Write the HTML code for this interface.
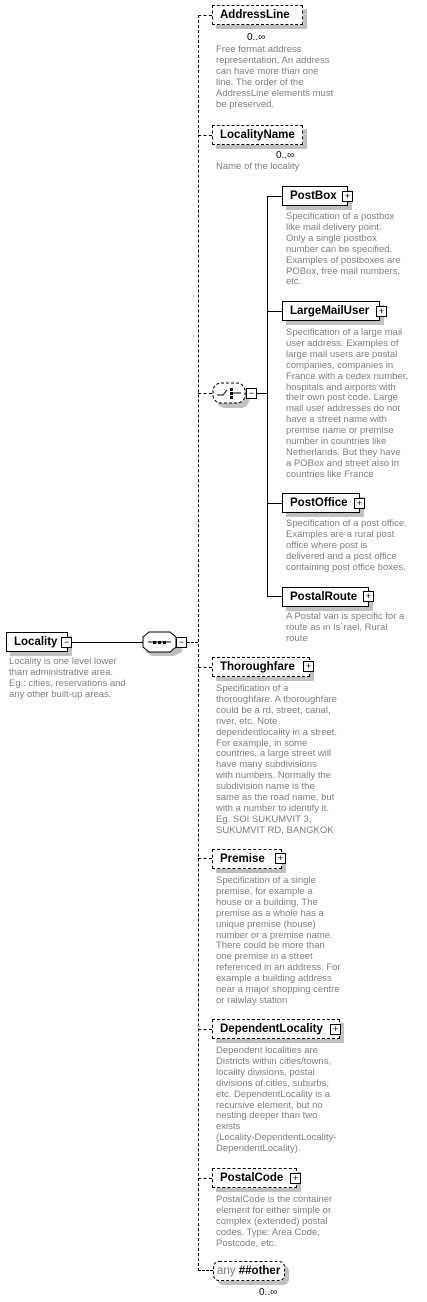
<!DOCTYPE html>
<html><head><meta charset="utf-8"><style>
body{margin:0;width:427px;height:1302px;background:#fff;position:relative;overflow:hidden;font-family:"Liberation Sans",Arial,sans-serif}
.a{position:absolute}
.box{position:absolute;background:#fff;border:1px solid #000;height:20px;box-shadow:4px 4px 0 #c0c0c0;font-weight:bold;font-size:11.5px;line-height:18px;padding-left:7px;box-sizing:border-box}
.dash{border-style:dashed}
.pl{position:absolute;width:9px;height:9px;border:1px solid #000;background:#fff;font-size:9px;line-height:9px;text-align:center;font-weight:normal}
.d{position:absolute;color:#808080;font-size:9.5px;line-height:10.9px;white-space:nowrap}
.hl{position:absolute;height:0;border-top:1px dashed #000}
.sl{position:absolute;height:0;border-top:1px solid #000}
.m{position:absolute;font-size:10px;color:#000}
</style></head><body>
<div class="a" style="left:198px;top:15px;width:0;height:1256px;border-left:1px dashed #000"></div>
<div class="a" style="left:267px;top:196px;width:0;height:401px;border-left:1px solid #000"></div>

<div class="box" style="left:6px;top:632px;width:62px">Locality</div>
<div class="pl" style="left:61px;top:637px">−</div>
<div class="sl" style="left:72px;top:642px;width:72px"></div>
<div class="d" style="left:9px;top:657px">Locality is one level lower<br>than administrative area.<br>Eg.: cities, reservations and<br>any other built-up areas.</div>
<svg class="a" style="left:142px;top:631px" width="48" height="28"><polygon points="10,6 32,6 40,10 40,21 32,25 10,25 4,21 4,10" fill="#c0c0c0"/><polygon points="7,1 28,1 34,6 34,16 28,21 7,21 1,16 1,6" fill="#fff" stroke="#000"/><line x1="6" y1="11" x2="29" y2="11" stroke="#000"/><rect x="11" y="10" width="3" height="3"/><rect x="16" y="10" width="3" height="3"/><rect x="21" y="10" width="3" height="3"/></svg>
<div class="pl" style="left:176px;top:637px">−</div>
<div class="hl" style="left:187px;top:642px;width:11px"></div>

<div class="hl" style="left:198px;top:15px;width:14px"></div>
<div class="box dash" style="left:212px;top:5px;width:91px">AddressLine</div>
<div class="m" style="left:247px;top:32px">0..∞</div>
<div class="d" style="left:216px;top:45px">Free format address<br>representation. An address<br>can have more than one<br>line. The order of the<br>AddressLine elements must<br>be preserved.</div>

<div class="hl" style="left:198px;top:135px;width:14px"></div>
<div class="box dash" style="left:212px;top:125px;width:91px">LocalityName</div>
<div class="m" style="left:276px;top:150px">0..∞</div>
<div class="d" style="left:216px;top:162px">Name of the locality</div>

<div class="hl" style="left:198px;top:393px;width:14px"></div>
<svg class="a" style="left:211px;top:382px" width="40" height="28"><rect x="6" y="6" width="32" height="20" rx="8" fill="#c0c0c0"/><rect x="2" y="1" width="32" height="20" rx="8" fill="#fff" stroke="#000" stroke-dasharray="3,2"/><path d="M6 13 H12 L16 8" stroke="#000" fill="none"/><rect x="19" y="6" width="3" height="3"/><rect x="19" y="10" width="3" height="3"/><rect x="19" y="14" width="3" height="3"/><path d="M22 11 H30" stroke="#000"/></svg>
<div class="pl" style="left:246px;top:388px">−</div>
<div class="sl" style="left:257px;top:393px;width:10px"></div>

<div class="sl" style="left:267px;top:196px;width:15px"></div>
<div class="box" style="left:282px;top:186px;width:66px">PostBox</div>
<div class="pl" style="left:342px;top:191px">+</div>
<div class="d" style="left:286px;top:212px">Specification of a postbox<br>like mail delivery point.<br>Only a single postbox<br>number can be specified.<br>Examples of postboxes are<br>POBox, free mail numbers,<br>etc.</div>

<div class="sl" style="left:267px;top:311px;width:15px"></div>
<div class="box" style="left:282px;top:301px;width:98px">LargeMailUser</div>
<div class="pl" style="left:376px;top:306px">+</div>
<div class="d" style="left:286px;top:328px">Specification of a large mail<br>user address. Examples of<br>large mail users are postal<br>companies, companies in<br>France with a cedex number,<br>hospitals and airports with<br>their own post code. Large<br>mail user addresses do not<br>have a street name with<br>premise name or premise<br>number in countries like<br>Netherlands. But they have<br>a POBox and street also in<br>countries like France</div>

<div class="sl" style="left:267px;top:503px;width:15px"></div>
<div class="box" style="left:282px;top:493px;width:78px">PostOffice</div>
<div class="pl" style="left:354px;top:498px">+</div>
<div class="d" style="left:286px;top:519px">Specification of a post office.<br>Examples are a rural post<br>office where post is<br>delivered and a post office<br>containing post office boxes.</div>

<div class="sl" style="left:267px;top:596px;width:15px"></div>
<div class="box" style="left:282px;top:587px;width:87px">PostalRoute</div>
<div class="pl" style="left:363px;top:591px">+</div>
<div class="d" style="left:286px;top:612px">A Postal van is specific for a<br>route as in Is`rael, Rural<br>route</div>

<div class="hl" style="left:198px;top:667px;width:14px"></div>
<div class="box dash" style="left:212px;top:657px;width:98px">Thoroughfare</div>
<div class="pl" style="left:303px;top:661px">+</div>
<div class="d" style="left:216px;top:684px">Specification of a<br>thoroughfare. A thoroughfare<br>could be a rd, street, canal,<br>river, etc.  Note<br>dependentlocality in a street.<br>For example, in some<br>countries, a large street will<br>have many subdivisions<br>with numbers. Normally the<br>subdivision name is the<br>same as the road name, but<br>with a number to identify it.<br>Eg. SOI SUKUMVIT 3,<br>SUKUMVIT RD, BANGKOK</div>

<div class="hl" style="left:198px;top:858px;width:14px"></div>
<div class="box dash" style="left:212px;top:849px;width:70px">Premise</div>
<div class="pl" style="left:275px;top:853px">+</div>
<div class="d" style="left:216px;top:876px">Specification of a single<br>premise, for example a<br>house or a building. The<br>premise as a whole has a<br>unique premise (house)<br>number or a premise name.<br>There could be more than<br>one premise in a street<br>referenced in an address. For<br>example a building address<br>near a major shopping centre<br>or raiwlay station</div>

<div class="hl" style="left:198px;top:1029px;width:14px"></div>
<div class="box dash" style="left:212px;top:1019px;width:128px">DependentLocality</div>
<div class="pl" style="left:330px;top:1024px">+</div>
<div class="d" style="left:216px;top:1046px">Dependent localities are<br>Districts within cities/towns,<br>locality divisions, postal<br>divisions of cities, suburbs,<br>etc. DependentLocality is a<br>recursive element, but no<br>nesting deeper than two<br>exists<br>(Locality-DependentLocality-<br>DependentLocality).</div>

<div class="hl" style="left:198px;top:1178px;width:14px"></div>
<div class="box dash" style="left:212px;top:1168px;width:85px">PostalCode</div>
<div class="pl" style="left:290px;top:1173px">+</div>
<div class="d" style="left:216px;top:1195px">PostalCode is the container<br>element for either simple or<br>complex (extended) postal<br>codes. Type: Area Code,<br>Postcode, etc.</div>

<div class="hl" style="left:198px;top:1270px;width:15px"></div>
<div class="a" style="left:217px;top:1265px;width:72px;height:20px;background:#c0c0c0;border-radius:6px"></div>
<div class="a" style="left:213px;top:1261px;width:72px;height:20px;background:#fff;border:1px dashed #000;border-radius:6px;font-size:11.5px;line-height:18px;box-sizing:border-box;padding-left:3px;white-space:nowrap"><span style="color:#808080">any</span> <b>##other</b></div>
<div class="m" style="left:259px;top:1287px">0..∞</div>
</body></html>
